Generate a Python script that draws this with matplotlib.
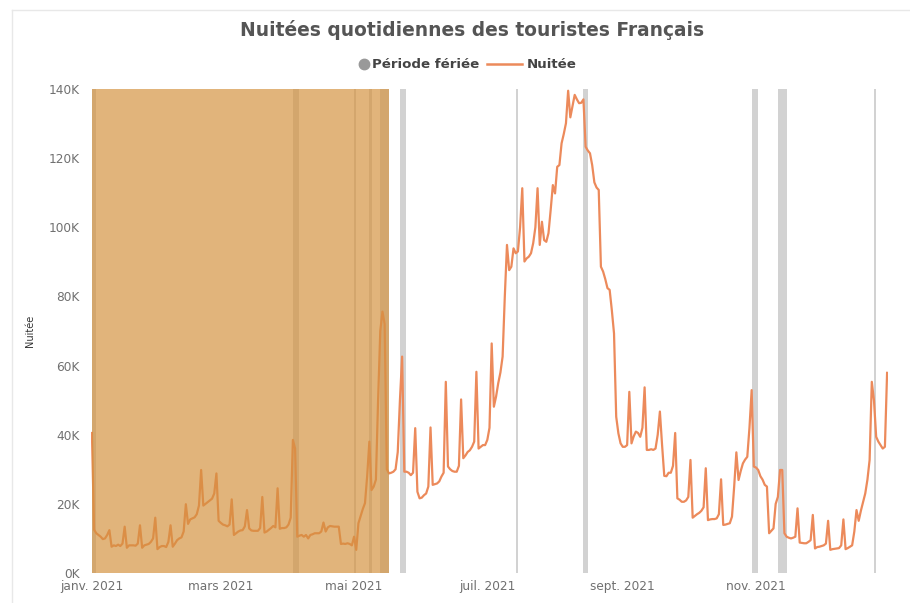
# -*- coding: utf-8 -*-
"""
Nuitées quotidiennes des touristes Français (2021)
- courbe journalière des nuitées
- barres grises : périodes fériées
- zone orangée : période de restrictions (janv. -> mi-mai)
"""
import numpy as np
import pandas as pd

import matplotlib
matplotlib.use("Agg")
import matplotlib.pyplot as plt
from matplotlib.lines import Line2D
from matplotlib.ticker import FuncFormatter

plt.rcParams["font.family"] = ["DejaVu Sans"]
plt.rcParams["axes.unicode_minus"] = False

# ---- données (en milliers de nuitées, une valeur par jour) ----
jan = [40.5, 12.5, 11.5, 11, 10.5, 9.8, 10, 11, 12.4, 7.6, 8, 7.8, 8.2, 7.8, 8.5, 13.4,
       7.3, 8, 8, 8, 7.9, 8.5, 13.8, 7.3, 8, 8.2, 8.4, 9, 10, 16, 6.9]
feb = [7.5, 7.8, 7.8, 7.5, 9, 13.8, 7.6, 8.5, 9.5, 10, 10.3, 12, 19.9, 14.2, 15.5, 15.8,
       16.1, 17, 19.5, 29.8, 19.5, 20, 20.5, 21, 21.5, 23, 28.8, 15.1]
mar = [14.5, 14, 13.8, 13.5, 14, 21.3, 11, 11.5, 12, 12.3, 12.4, 13.5, 18.2, 12.9, 12.3, 12.2,
       12.2, 12.2, 13, 22, 11.7, 12, 12.5, 13, 13.6, 13.2, 24.5, 12.8, 13, 13, 13.2]
apr = [14, 16, 38.5, 36, 10.5, 10.8, 11, 10.5, 11, 10, 11, 11.2, 11.5, 11.5, 11.5, 12,
       14.6, 12, 13.2, 13.6, 13.5, 13.4, 13.4, 13.4, 8.4, 8.5, 8.4, 8.6, 8.4, 8]
may = [10.5, 6.7, 14.4, 16.5, 18.5, 20.2, 28, 38, 24, 25, 27, 50, 70, 75.6, 72, 30,
       28.8, 29, 29.3, 30, 35, 50, 62.6, 29.3, 29.3, 29, 28.3, 29, 41.9, 23.5, 21.6]
jun = [21.8, 22.5, 23, 25, 42.1, 25.5, 25.7, 25.9, 26.5, 27.9, 29, 55.3, 30.8, 30, 29.5,
       29.3, 29.3, 31, 50.2, 33.2, 34, 35, 35.5, 36.5, 38, 58.2, 36, 36.5, 37, 37]
jul = [38.5, 42, 66.4, 48.1, 51, 54.9, 58, 62.6, 79.9, 94.9, 87.6, 88.6, 93.9, 92.5, 93,
       100, 111.3, 90.1, 91, 91.5, 92.5, 95.4, 100, 111.3, 94.9, 101.6, 96.3, 95.8, 98.3,
       105, 112.2]
aug = [109.8, 117.5, 118, 124.3, 127, 130.1, 139.5, 131.8, 135, 138.3, 137, 135.9, 136,
       137, 123.3, 122.2, 121.4, 118, 113, 111.5, 110.8, 88.6, 87.2, 85, 82.4, 81.9, 76,
       69.3, 45.2, 40.4, 37.5]
sep = [36.5, 36.5, 37, 52.4, 37.5, 39.5, 40.9, 40.5, 39.4, 42, 53.7, 35.6, 35.6, 35.8,
       35.6, 36, 40, 46.7, 37, 28.1, 28, 29, 29, 31, 40.5, 21.6, 21.2, 20.6, 20.6, 21]
oct_ = [22, 32.7, 16, 16.5, 17, 17.4, 18, 19, 30.3, 15.3, 15.5, 15.6, 15.6, 15.8, 17, 27.1,
        13.9, 14, 14.2, 14.4, 16.3, 25, 34.9, 26.9, 29.5, 31.7, 32.8, 33.6, 42, 52.9, 30.8]
nov = [30.5, 29.8, 28, 27, 25.5, 25, 11.5, 12.2, 12.9, 20, 22, 29.8, 29.8, 11.5, 10.5,
       10.2, 10, 10.2, 10.5, 18.7, 8.8, 8.7, 8.6, 8.6, 9, 9.5, 16.8, 7.1, 7.5, 7.6]
dec = [7.8, 8, 8.5, 15.1, 6.7, 6.9, 7, 7.1, 7.2, 8, 15.5, 6.9, 7.2, 7.6, 8, 12, 18.2,
       15.1, 18, 20.5, 23, 27, 32.7, 55.3, 49.9, 39.4, 38, 37, 36, 36.5, 57.9]

# périodes fériées (début, fin incluse)
holidays = [("2021-01-01", "2021-01-02"), ("2021-04-03", "2021-04-05"),
            ("2021-05-01", "2021-05-01"), ("2021-05-08", "2021-05-08"),
            ("2021-05-13", "2021-05-16"), ("2021-05-22", "2021-05-24"),
            ("2021-07-14", "2021-07-14"), ("2021-08-14", "2021-08-15"),
            ("2021-10-30", "2021-11-01"), ("2021-11-11", "2021-11-14"),
            ("2021-12-25", "2021-12-25")]
restriction = ("2021-01-01", "2021-05-17")

month_ticks = ["2021-01-01", "2021-03-01", "2021-05-01", "2021-07-01", "2021-09-01", "2021-11-01"]
month_labels = ["janv. 2021", "mars 2021", "mai 2021", "juil. 2021", "sept. 2021", "nov. 2021"]

values = np.array(jan + feb + mar + apr + may + jun + jul + aug + sep + oct_ + nov + dec) * 1000
dates = pd.date_range("2021-01-01", periods=len(values), freq="D")

LINE_COL = "#EC8A5B"
GREY = "#D2D2D2"
TXT = "#555555"
one_day = pd.Timedelta(days=1)

fig = plt.figure(figsize=(9.1, 6.03), dpi=100)
ax = fig.add_axes([91 / 910, 30 / 603, 797 / 910, 484 / 603])

# barres fériées
for start, end in holidays:
    ax.axvspan(pd.Timestamp(start), pd.Timestamp(end) + one_day, color=GREY, lw=0, zorder=1)

ax.plot(dates, values, color=LINE_COL, lw=1.6, zorder=2, solid_joinstyle="round")

# zone de restriction par-dessus
ax.axvspan(pd.Timestamp(restriction[0]), pd.Timestamp(restriction[1]),
           color="#D4913D", alpha=0.68, lw=0, zorder=3)

ax.set_xlim(dates[0] - pd.Timedelta(hours=10), dates[-1] + pd.Timedelta(hours=10))
ax.set_ylim(0, 140000)
ax.set_yticks(np.arange(0, 140001, 20000))
ax.yaxis.set_major_formatter(FuncFormatter(lambda v, p: f"{int(v / 1000)}K"))
ax.set_xticks([pd.Timestamp(d) for d in month_ticks])
ax.set_xticklabels(month_labels)
ax.tick_params(axis="both", length=0, labelsize=8.7, labelcolor="#707070")
ax.tick_params(axis="x", pad=5)
ax.tick_params(axis="y", pad=8)
for s in ax.spines.values():
    s.set_visible(False)
ax.set_ylabel("Nuitée", fontsize=7, color="#333333", labelpad=10)

# titre + légende
fig.text(0.519, 1 - 30 / 603, "Nuitées quotidiennes des touristes Français",
         ha="center", va="center", fontsize=13.4, fontweight="bold", color=TXT)
ly = 1 - 64 / 603
fig.add_artist(Line2D([364 / 910], [ly], marker="o", ms=7.5, color="#999999", lw=0,
                      transform=fig.transFigure))
fig.text(372 / 910, ly, "Période fériée", ha="left", va="center", fontsize=9.6,
         fontweight="bold", color="#444444")
fig.add_artist(Line2D([487 / 910, 522 / 910], [ly, ly], color=LINE_COL, lw=1.8,
                      transform=fig.transFigure))
fig.text(527 / 910, ly, "Nuitée", ha="left", va="center", fontsize=9.6,
         fontweight="bold", color="#444444")

# cadre du visuel
fig.add_artist(Line2D([12 / 910, 12 / 910], [0, 1 - 10 / 603], color="#E8E8E8", lw=1,
                      transform=fig.transFigure))
fig.add_artist(Line2D([12 / 910, 1], [1 - 10 / 603, 1 - 10 / 603], color="#E8E8E8", lw=1,
                      transform=fig.transFigure))

fig.savefig("out.png", dpi=100)
plt.close(fig)
